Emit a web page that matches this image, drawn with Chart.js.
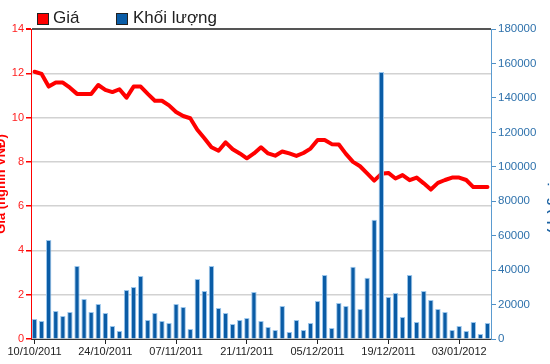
<!DOCTYPE html>
<html>
<head>
<meta charset="utf-8">
<script src="https://cdn.jsdelivr.net/npm/chart.js@4"></script>
<style>
html,body{margin:0;padding:0;background:#fff;overflow:hidden}
#wrap{position:relative;width:550px;height:364px}
canvas{position:absolute;left:0;top:0}
.lg{position:absolute;top:7px;font-family:"Liberation Sans",Arial,sans-serif;font-size:17px;color:#222;line-height:22px;white-space:nowrap}
.bx{position:absolute;top:13px;width:10px;height:10px;border:1px solid #222}
</style>
</head>
<body>
<div id="wrap">
<canvas id="c" width="550" height="364"></canvas>
<div class="bx" style="left:37px;background:#ff0000"></div>
<div class="lg" style="left:53px">Giá</div>
<div class="bx" style="left:116px;background:#0a5ca6"></div>
<div class="lg" style="left:133px">Khối lượng</div>
</div>
<script>
const dates = [
"10/10/2011","11/10/2011","12/10/2011","13/10/2011","14/10/2011",
"17/10/2011","18/10/2011","19/10/2011","20/10/2011","21/10/2011",
"24/10/2011","25/10/2011","26/10/2011","27/10/2011","28/10/2011",
"31/10/2011","01/11/2011","02/11/2011","03/11/2011","04/11/2011",
"07/11/2011","08/11/2011","09/11/2011","10/11/2011","11/11/2011",
"14/11/2011","15/11/2011","16/11/2011","17/11/2011","18/11/2011",
"21/11/2011","22/11/2011","23/11/2011","24/11/2011","25/11/2011",
"28/11/2011","29/11/2011","30/11/2011","01/12/2011","02/12/2011",
"05/12/2011","06/12/2011","07/12/2011","08/12/2011","09/12/2011",
"12/12/2011","13/12/2011","14/12/2011","15/12/2011","16/12/2011",
"19/12/2011","20/12/2011","21/12/2011","22/12/2011","23/12/2011",
"26/12/2011","27/12/2011","28/12/2011","29/12/2011","30/12/2011",
"03/01/2012","04/01/2012","05/01/2012","06/01/2012","09/01/2012"
];
const price = [
12.07,11.97,11.4,11.58,11.58,11.35,11.07,11.07,11.07,11.47,
11.25,11.15,11.28,10.9,11.4,11.4,11.07,10.76,10.76,10.55,
10.25,10.07,9.97,9.45,9.07,8.66,8.5,8.88,8.57,8.38,
8.16,8.38,8.66,8.38,8.28,8.47,8.38,8.27,8.4,8.6,
8.99,8.99,8.8,8.78,8.36,8.0,7.8,7.48,7.15,7.46,
7.5,7.25,7.4,7.17,7.29,7.03,6.75,7.05,7.18,7.29,
7.29,7.18,6.86,6.86,6.86
];
const volume = [
11600,10500,57500,16300,13400,15700,42400,23200,15700,20300,
15100,7600,4600,28500,30200,36600,11000,15100,10500,9300,
20300,18600,5800,34900,27900,42400,18000,15100,8700,11000,
12200,27300,10500,7000,5200,19200,4100,11000,5200,9300,
22100,37200,6400,20900,19200,41900,17400,35500,69200,155000,
24400,26700,12800,37200,9900,27900,22700,17400,15700,5200,
7600,4600,9900,2900,9300
];
const priceTicks = [0,2,4,6,8,10,12,14];
const volumeTicks = [0,20000,40000,60000,80000,100000,120000,140000,160000,180000];
const labelEvery = 10;

const font = "'Liberation Sans', Arial, sans-serif";

new Chart(document.getElementById('c'), {
  data: {
    labels: dates,
    datasets: [
      {
        type: 'bar', label: 'Khối lượng', data: volume, yAxisID: 'yv', order: 1,
        backgroundColor: '#0a5ca6', borderColor: 'rgba(150,195,235,0.95)', borderWidth: 1,
        categoryPercentage: 1, barPercentage: 0.76
      },
      {
        type: 'line', label: 'Giá', data: price, yAxisID: 'yp', order: 2,
        borderColor: '#ff0000', borderWidth: 4, pointRadius: 0, tension: 0,
        borderJoinStyle: 'round', borderCapStyle: 'round'
      }
    ]
  },
  options: {
    responsive: false, animation: false,
    layout: { padding: { top: 29, left: 0, right: 0, bottom: 0 } },
    plugins: { legend: { display: false }, tooltip: { enabled: false } },
    scales: {
      x: {
        type: 'category', offset: true,
        grid: { offset: false, drawOnChartArea: false, drawTicks: true, tickLength: 5, tickColor: '#222' },
        border: { display: true, color: '#333', width: 1 },
        ticks: {
          autoSkip: false, maxRotation: 0, padding: 1, color: '#222',
          font: { family: font, size: 11 },
          callback: function(v, i) { return i % labelEvery === 0 ? dates[i] : null; }
        },
        afterFit: function(s) { s.height = 25; }
      },
      yp: {
        position: 'left', min: 0, max: 14,
        afterBuildTicks: function(s) { s.ticks = priceTicks.map(v => ({ value: v })); },
        grid: {
          color: function(c) { return c.tick && c.tick.value === 14 ? '#555' : '#d2d2d2'; },
          lineWidth: function(c) { return c.tick && c.tick.value === 14 ? 2 : 1.5; },
          tickColor: '#ff0000', tickLength: 5
        },
        border: { display: true, color: '#ff0000', width: 1 },
        ticks: { color: '#ff2020', padding: 2, font: { family: font, size: 11 },
                 callback: function(v) { return String(v); } },
        title: { display: true, text: 'Giá (nghìn VNĐ)', color: '#ff0000',
                 font: { family: font, size: 13, weight: 'bold' }, padding: { top: -6, bottom: 0 } },
        afterFit: function(s) { s.width = 31; }
      },
      yv: {
        position: 'right', min: 0, max: 180000,
        afterBuildTicks: function(s) { s.ticks = volumeTicks.map(v => ({ value: v })); },
        grid: { drawOnChartArea: false, tickColor: '#4f90c6', tickLength: 5 },
        border: { display: true, color: '#5b9bd0', width: 1 },
        ticks: { color: '#2f72ac', padding: 2, font: { family: font, size: 11.5 },
                 callback: function(v) { return String(v); } },
        title: { display: true, text: 'Khối lượng (cp)', color: '#1d63a3',
                 font: { family: font, size: 13, weight: 'bold' }, padding: { top: -11, bottom: 0 } },
        afterFit: function(s) { s.width = 59; }
      }
    }
  }
});
</script>
</body>
</html>
